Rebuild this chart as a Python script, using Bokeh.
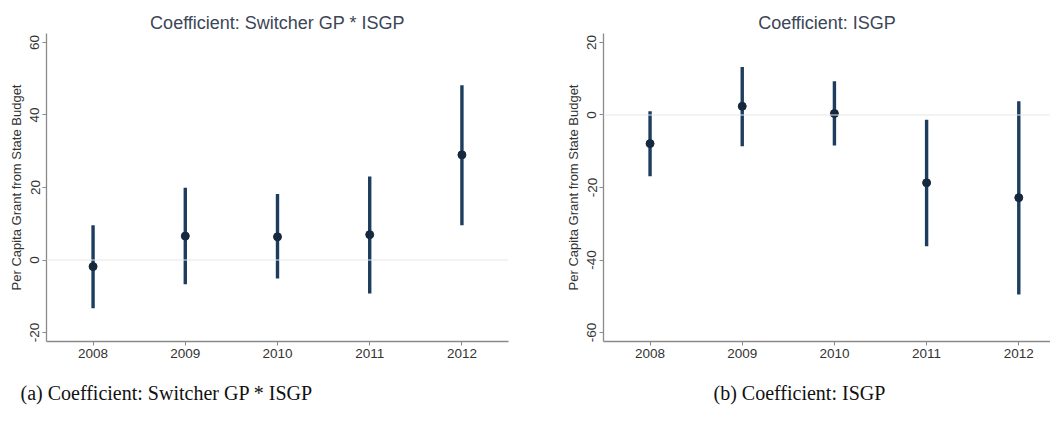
from bokeh.plotting import figure
from bokeh.layouts import row
from bokeh.models import FixedTicker, Span, Title, ColumnDataSource, Range1d
from bokeh.embed import file_html
from bokeh.resources import INLINE

# ---- data ----
years = [2008, 2009, 2010, 2011, 2012]
a_coef = [-1.8, 6.6, 6.4, 7.0, 29.0]
a_lo = [-13.3, -6.7, -5.1, -9.2, 9.6]
a_hi = [9.6, 19.9, 18.2, 23.0, 48.2]
b_coef = [-7.9, 2.4, 0.4, -18.7, -22.8]
b_lo = [-16.9, -8.6, -8.4, -36.2, -49.5]
b_hi = [1.0, 13.2, 9.3, -1.3, 3.8]
a_yticks = [-20, 0, 20, 40, 60]
b_yticks = [-60, -40, -20, 0, 20]
a_title = "Coefficient: Switcher GP * ISGP"
b_title = "Coefficient: ISGP"
a_caption = "(a) Coefficient: Switcher GP * ISGP"
b_caption = "(b) Coefficient: ISGP"
ylabel = "Per Capita Grant from State Budget"

SANS = "Liberation Sans"
SERIF = "Liberation Serif"
BAR = "#1d3d5e"
DOT = "#15283d"
AXIS = "#8a8a8a"
TXT = "#333333"


def panel(width, bl, br, xr, yr, yticks, coef, lo, hi, title, title_off, caption, cap_off):
    p = figure(width=width, height=423, x_range=Range1d(*xr), y_range=Range1d(*yr),
               output_backend="svg", toolbar_location=None,
               min_border_left=bl, min_border_right=br, min_border_top=33, min_border_bottom=81)
    p.outline_line_color = None
    p.xgrid.visible = False
    p.ygrid.visible = False
    p.background_fill_color = "white"
    p.border_fill_color = "white"

    p.title.text = title
    p.title.align = "center"
    p.title.offset = title_off
    p.title.text_font = SANS
    p.title.text_font_size = "18px"
    p.title.text_font_style = "normal"
    p.title.text_color = "#3b4656"
    p.title.standoff = 2

    p.add_layout(Span(location=0, dimension="width", line_color="#e8e8e8", line_width=1.2))

    src = ColumnDataSource(dict(x=years, y=coef, lo=lo, hi=hi))
    p.segment(x0="x", y0="lo", x1="x", y1="hi", source=src, line_color=BAR, line_width=3.4)
    p.scatter(x="x", y="y", source=src, size=8, fill_color=DOT, line_color=DOT)

    for ax in (p.xaxis[0], p.yaxis[0]):
        ax.axis_line_color = AXIS
        ax.axis_line_width = 1.3
        ax.major_tick_line_color = AXIS
        ax.major_tick_out = 4
        ax.major_tick_in = 0
        ax.minor_tick_line_color = None
        ax.major_label_text_font = SANS
        ax.major_label_text_font_size = "13.5px"
        ax.major_label_text_color = TXT
        ax.major_label_standoff = 3
    p.xaxis.ticker = FixedTicker(ticks=years)
    p.yaxis.ticker = FixedTicker(ticks=yticks)
    p.yaxis.major_label_overrides = {t: str(t) for t in yticks}
    p.yaxis.major_label_orientation = "vertical"
    p.yaxis.axis_label = ylabel
    p.yaxis.axis_label_text_font = SANS
    p.yaxis.axis_label_text_font_size = "13px"
    p.yaxis.axis_label_text_font_style = "normal"
    p.yaxis.axis_label_text_color = TXT
    p.yaxis.axis_label_standoff = 4

    p.add_layout(Title(text=caption, align="left", offset=cap_off, text_font=SERIF,
                       text_font_size="20px", text_font_style="normal", text_color="#111111",
                       standoff=39), "below")
    return p


pa = panel(520, 46, 12, (2007.495, 2012.505), (-22.47, 62.47), a_yticks,
           a_coef, a_lo, a_hi, a_title, 0, a_caption, -26)
pb = panel(530, 83, 0, (2007.495, 2012.344), (-62.47, 22.47), b_yticks,
           b_coef, b_lo, b_hi, b_title, 7, b_caption, 110)

layout = row(pa, pb, spacing=0)
open("out.html", "w").write(file_html(layout, INLINE))
